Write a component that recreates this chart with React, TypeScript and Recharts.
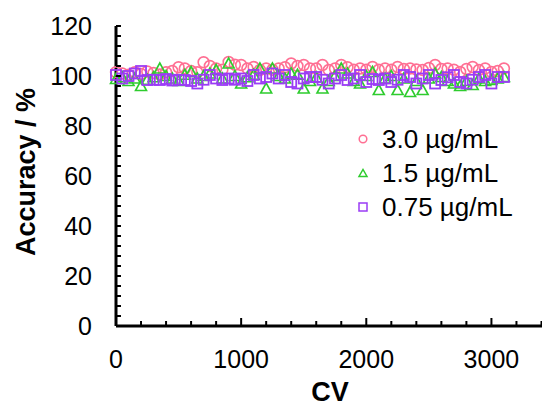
import React from "react";
import { ScatterChart, Scatter, XAxis, YAxis, Legend } from "recharts";

// CV cycles
const cv = [
  0, 50, 100, 150, 200, 250, 300, 350, 400, 450, 500, 550, 600, 650, 700, 750,
  800, 850, 900, 950, 1000, 1050, 1100, 1150, 1200, 1250, 1300, 1350, 1400, 1450,
  1500, 1550, 1600, 1650, 1700, 1750, 1800, 1850, 1900, 1950, 2000, 2050, 2100,
  2150, 2200, 2250, 2300, 2350, 2400, 2450, 2500, 2550, 2600, 2650, 2700, 2750,
  2800, 2850, 2900, 2950, 3000, 3050, 3100,
];

// accuracy (%) per concentration
const acc30 = [
  101.5, 101, 100.5, 101.5, 100.8, 101.8, 101.2, 100.6, 101.5, 102, 103.5, 103,
  102, 101.5, 105.5, 104, 103, 102.5, 105.6, 104.5, 104.4, 103, 103.6, 102.4, 103,
  102.5, 103, 103.5, 105, 104, 104.4, 103, 103, 104.4, 102.4, 103, 104.4, 103.5,
  102.5, 103, 102.5, 103.6, 102.5, 103, 102.5, 103.6, 102.8, 103, 102.6, 102.4,
  103.2, 104.4, 102.8, 103, 102.5, 101.6, 102.8, 103.6, 102.4, 103, 101.6, 102, 103,
];
const acc15 = [
  98.8, 99.5, 98, 99, 96, 98.5, 99.5, 103, 100, 99, 98, 100.5, 101.6, 99, 100, 101,
  102.4, 99, 105, 100, 97, 99.5, 100.5, 103, 95, 103, 100, 99, 101, 100.5, 95, 98,
  99.5, 95, 98, 100, 103, 101, 98, 97, 100, 101.6, 94.4, 99, 100, 94.4, 99, 93.6,
  98, 94.4, 99, 101, 99.6, 98, 97, 96, 98, 96.4, 99, 98, 98.4, 99, 99.6,
];
const acc075 = [
  100.4, 99, 100, 101, 102, 98.4, 98.5, 98.4, 98.8, 98.2, 98.5, 98.4, 98, 97, 98.5,
  100.4, 99, 98.4, 99, 98.5, 99, 98, 100.4, 99, 99.6, 101, 99, 100.4, 97.6, 97, 99,
  99.6, 99.6, 98.5, 97, 99, 100.4, 98.4, 99, 100.4, 97.6, 98.8, 98.4, 99, 97.6, 98.5,
  100.4, 99.6, 97, 99, 100.4, 97, 98.4, 99.5, 100.4, 97.6, 97, 98.5, 99.6, 100.4, 97,
  99.6, 99.6,
];

const seriesNames = ["3.0 µg/mL", "1.5 µg/mL", "0.75 µg/mL"];

const xTicks = [
  0, 200, 400, 600, 800, 1000, 1200, 1400, 1600, 1800, 2000, 2200, 2400, 2600,
  2800, 3000, 3200, 3400,
];
const xLabels = [0, 1000, 2000, 3000];
const yTicks = [
  0, 4, 8, 12, 16, 20, 24, 28, 32, 36, 40, 44, 48, 52, 56, 60, 64, 68, 72, 76, 80,
  84, 88, 92, 96, 100, 104, 108, 112, 116, 120,
];
const yLabels = [0, 20, 40, 60, 80, 100, 120];

const PINK = "#ff6f93";
const GREEN = "#2ecc2e";
const PURPLE = "#9b3cf5";
const FONT = "'Liberation Sans', Arial, sans-serif";

const d30 = cv.map((x, i) => ({ cv: x, acc: acc30[i] }));
const d15 = cv.map((x, i) => ({ cv: x, acc: acc15[i] }));
const d075 = cv.map((x, i) => ({ cv: x, acc: acc075[i] }));

function CircleMark(props: any) {
  return <circle cx={props.cx} cy={props.cy} r={5.4} fill="none" stroke={PINK} strokeWidth={1.6} />;
}

function TriMark(props: any) {
  const { cx, cy } = props;
  const pts = `${cx - 5.5},${cy + 4.5} ${cx + 5.5},${cy + 4.5} ${cx},${cy - 5.5}`;
  return <polygon points={pts} fill="none" stroke={GREEN} strokeWidth={1.6} />;
}

function SquareMark(props: any) {
  const { cx, cy } = props;
  return <rect x={cx - 5} y={cy - 5} width={10} height={10} fill="none" stroke={PURPLE} strokeWidth={1.8} />;
}

function XTick(props: any) {
  const { x, y, payload } = props;
  const major = xLabels.includes(payload.value);
  return (
    <g>
      <line x1={x} x2={x} y1={y - 1} y2={y - 1 - (major ? 7 : 4)} stroke="#000" strokeWidth={2} />
      {major && (
        <text x={x} y={y + 42} textAnchor="middle" fontSize={25} fontFamily={FONT} fill="#000">
          {payload.value}
        </text>
      )}
    </g>
  );
}

function YTick(props: any) {
  const { x, y, payload } = props;
  const major = yLabels.includes(payload.value);
  return (
    <g>
      <line x1={x} x2={x + 5} y1={y} y2={y} stroke="#000" strokeWidth={2} />
      {major && (
        <text x={x - 24} y={y + 9} textAnchor="end" fontSize={25} fontFamily={FONT} fill="#000">
          {payload.value}
        </text>
      )}
    </g>
  );
}

function LegendBox() {
  const marks = [
    <circle cx={8} cy={8} r={3.8} fill="none" stroke={PINK} strokeWidth={1.5} />,
    <polygon points="4,11.5 12,11.5 8,4.5" fill="none" stroke={GREEN} strokeWidth={1.5} />,
    <rect x={4} y={4} width={8} height={8} fill="none" stroke={PURPLE} strokeWidth={1.5} />,
  ];
  return (
    <div style={{ fontFamily: FONT, fontSize: 26, color: "#000" }}>
      {seriesNames.map((n, i) => (
        <div key={n} style={{ display: "flex", alignItems: "center", height: 34 }}>
          <svg width={16} height={16} style={{ marginRight: 11 }}>
            {marks[i]}
          </svg>
          <span>{n}</span>
        </div>
      ))}
    </div>
  );
}

export default function App() {
  return (
    <div style={{ position: "absolute", left: 0, top: 0, width: 542, height: 407, overflow: "hidden", background: "#fff" }}>
      <ScatterChart width={560} height={407} margin={{ top: 26, right: 6, left: 0, bottom: 80 }}>
        <XAxis
          type="number"
          dataKey="cv"
          domain={[0, 3500]}
          ticks={xTicks}
          interval={0}
          height={1}
          tickSize={0}
          tickMargin={0}
          tickLine={false}
          tick={<XTick />}
          axisLine={{ stroke: "#000", strokeWidth: 3 }}
          label={() => (
            <text x={330} y={401} textAnchor="middle" fontSize={27} fontWeight="bold" fontFamily={FONT} fill="#000">
              CV
            </text>
          )}
        />
        <YAxis
          type="number"
          dataKey="acc"
          domain={[0, 120]}
          ticks={yTicks}
          interval={0}
          width={116}
          tickSize={0}
          tickMargin={0}
          tickLine={false}
          tick={<YTick />}
          axisLine={{ stroke: "#000", strokeWidth: 3 }}
          label={() => (
            <text
              x={35}
              y={172}
              transform="rotate(-90 35 172)"
              textAnchor="middle"
              fontSize={27}
              fontWeight="bold"
              fontFamily={FONT}
              fill="#000"
            >
              Accuracy / %
            </text>
          )}
        />
        <Legend
          layout="vertical"
          align="center"
          verticalAlign="middle"
          content={<LegendBox />}
          wrapperStyle={{ position: "absolute", left: 355, top: 122, width: "auto", height: "auto" }}
        />
        <Scatter name={seriesNames[0]} data={d30} shape={<CircleMark />} isAnimationActive={false} />
        <Scatter name={seriesNames[1]} data={d15} shape={<TriMark />} isAnimationActive={false} />
        <Scatter name={seriesNames[2]} data={d075} shape={<SquareMark />} isAnimationActive={false} />
      </ScatterChart>
    </div>
  );
}
